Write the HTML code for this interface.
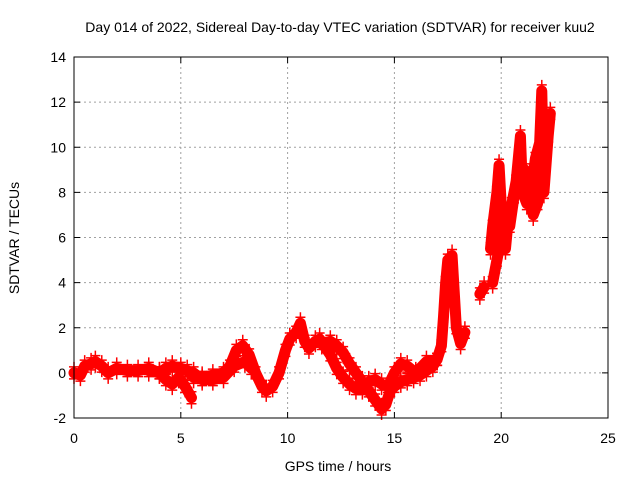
<!DOCTYPE html>
<html><head><meta charset="utf-8">
<style>
body{margin:0;background:#fff;}
svg{display:block;font-family:"Liberation Sans",sans-serif;}
</style></head>
<body>
<svg id="chart" width="640" height="480">
  <text x="340" y="32" font-size="14" text-anchor="middle">Day 014 of 2022, Sidereal Day-to-day VTEC variation (SDTVAR) for receiver kuu2</text>
  <text x="338" y="471" font-size="14" text-anchor="middle">GPS time / hours</text>
  <text transform="translate(19,238) rotate(-90)" font-size="14" text-anchor="middle">SDTVAR / TECUs</text>
  <g id="grid"></g>
  <g id="ticks"></g>
  <g id="marks"></g>
  <rect x="74" y="57" width="534" height="361" fill="none" stroke="#000" stroke-width="1"/>
</svg>
<script>
const xTicks=[0,5,10,15,20,25];
const yTicks=[-2,0,2,4,6,8,10,12,14];
const timesA=[0,0.3,0.5,0.8,1.0,1.3,1.6,2.0,2.5,3.0,3.5,4.0,4.3,4.6,5.0,5.3,5.6,6.0,6.5,7.0,7.3,7.6,7.9,8.2,8.5,8.8,9.0,9.3,9.6,9.9,10.1,10.4,10.6,10.8,11.0,11.3,11.6,12.0,12.3,12.6,12.9,13.2,13.5,13.8,14.1,14.4,14.6,14.8,15.0,15.3,15.6,15.9,16.2,16.5,16.8,17.0,17.2,17.3,17.4,17.5,17.7,17.9,18.1,18.3,null,19.0,19.2,null,19.5,19.6,19.8,19.9,20.0,20.1,20.2,20.3,20.5,20.7,20.9,21.0,21.2,21.4,21.6,21.8,21.9,22.0,22.2,22.3];
const valuesA=[0.0,-0.1,0.3,0.4,0.5,0.3,0.0,0.2,0.1,0.1,0.2,0.0,0.2,0.3,0.2,0.1,-0.2,-0.2,-0.1,0.0,0.3,1.0,1.2,0.8,0.0,-0.6,-0.8,-0.6,0.0,1.0,1.5,1.8,2.2,1.4,1.1,1.4,1.3,1.4,1.2,0.9,0.4,0.0,-0.4,-0.8,-1.2,-1.6,-1.4,-0.8,-0.6,-0.4,-0.3,-0.2,-0.1,0.1,0.3,0.6,1.2,2.5,4.0,5.0,5.2,2.0,1.3,1.8,null,3.5,3.8,null,5.5,6.5,8.0,9.2,7.5,6.0,5.5,6.5,7.5,8.5,10.5,8.0,7.5,8.0,9.5,10.2,12.5,8.0,10.5,11.5];
const timesB=[3.5,4.0,4.3,4.6,4.9,5.2,5.5,null,5.6,6.0,6.5,7.0,7.5,8.0,8.3,null,11.5,12.0,12.3,12.6,12.9,13.2,13.5,13.8,14.1,14.4,14.7,15.0,15.3,15.6,16.0,16.5,17.0,null,19.6,19.8,20.0,20.2,20.4,20.6,20.8,21.1,21.3,21.5,21.7,22.0,22.2];
const valuesB=[0.1,0.0,-0.3,-0.5,-0.2,-0.6,-1.1,null,0.0,-0.3,-0.3,-0.2,0.3,0.5,0.2,null,1.5,0.8,0.2,-0.2,-0.5,-0.7,-0.7,-0.4,-0.3,-0.5,-0.6,0.0,0.4,0.3,0.0,0.5,0.6,null,4.0,5.0,6.0,7.0,6.5,7.8,8.5,9.0,8.2,7.0,7.5,9.0,11.0];

const X0=74,X1=608,Y0=418,Y1=57;
function xs(v){return X0+(v-0)/(25-0)*(X1-X0);}
function ys(v){return Y0-(v+2)/(16)*(Y0-Y1);}
const NS="http://www.w3.org/2000/svg";
const grid=document.getElementById('grid'),ticks=document.getElementById('ticks'),marks=document.getElementById('marks');
function mk(tag,attrs,parent){const e=document.createElementNS(NS,tag);for(const k in attrs)e.setAttribute(k,attrs[k]);parent.appendChild(e);return e;}
xTicks.forEach(t=>{
  const x=xs(t);
  if(t>0&&t<25){const g=mk('line',{x1:x,x2:x,y1:Y1,y2:Y0,stroke:'#a0a0a0','stroke-dasharray':'2,3'},grid);
  
  }
  mk('line',{x1:x,x2:x,y1:Y0,y2:Y0-6,stroke:'#000'},ticks);
  mk('line',{x1:x,x2:x,y1:Y1,y2:Y1+6,stroke:'#000'},ticks);
  const l=mk('text',{x:x,y:Y0+25,'font-size':14,'text-anchor':'middle'},ticks);l.textContent=t;
  
  
});
yTicks.forEach(t=>{
  const y=ys(t);
  if(t>-2&&t<14){const g=mk('line',{x1:X0,x2:X1,y1:y,y2:y,stroke:'#a0a0a0','stroke-dasharray':'2,3'},grid);
  
  }
  mk('line',{x1:X0,x2:X0+6,y1:y,y2:y,stroke:'#000'},ticks);
  mk('line',{x1:X1,x2:X1-6,y1:y,y2:y,stroke:'#000'},ticks);
  const l=mk('text',{x:X0-8,y:y+5,'font-size':14,'text-anchor':'end'},ticks);l.textContent=t;
  
  
});
function drawSeries(ts,vs,name){
  let seg=[];
  const flush=()=>{if(seg.length>1){const p=mk('polyline',{points:seg.join(' '),fill:'none',stroke:'#ff0000','stroke-width':11,'stroke-linejoin':'round','stroke-linecap':'round'},marks);
    
    }seg=[];};
  for(let i=0;i<ts.length;i++){
    if(ts[i]===null||vs[i]===null){flush();continue;}
    const x=xs(ts[i]),y=ys(vs[i]);seg.push(x+','+y);
    const m=mk('path',{d:`M${x-5},${y-6}H${x+5}M${x},${y-11}V${y-1}M${x-5},${y+6}H${x+5}M${x},${y+1}V${y+11}`,stroke:'#ff0000','stroke-width':1.5},marks);
    
    
  }
  flush();
}
drawSeries(timesA,valuesA,'series-a');
drawSeries(timesB,valuesB,'series-b');
</script>
</body></html>
